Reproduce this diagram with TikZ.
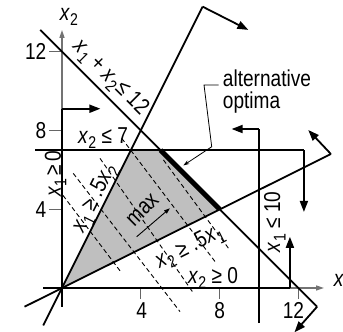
\documentclass[tikz,border=0pt]{standalone}
\usepackage{fontspec}
\setmainfont{Liberation Sans}
\usetikzlibrary{arrows.meta}
\newcommand{\vx}[1]{\textit{x}\kern0.3pt\raisebox{-0.45ex}{\fontsize{17}{17}\selectfont #1}}
\newcommand{\nt}[1]{\scalebox{0.83}[1]{\fontsize{23}{26}\selectfont #1}}
\tikzset{
  con/.style={line width=1.8pt, black},
  conarr/.style={line width=1.8pt, black, -{Triangle[length=11pt,width=8pt]}},
  axisline/.style={line width=1.4pt, black!55, -{Triangle[length=8pt,width=5pt]}},
  tick/.style={line width=1.1pt, black!60},
  dsh/.style={line width=0.9pt, dash pattern=on 4.5pt off 3pt},
  lbl/.style={inner sep=0pt, outer sep=0pt},
  region/.style={fill=black!25},
}
\begin{document}
\begin{tikzpicture}[x=19.7pt,y=19.7pt]
\useasboundingbox (-3.147,-2.234) rectangle (14.264,14.619);

% feasible region
\coordinate (O) at (0,0);
\coordinate (A) at (3.5,7);
\coordinate (B) at (5,7);
\coordinate (C) at (8,4);
\fill[region] (O) -- (A) -- (B) -- (C) -- cycle;

% objective contours
\coordinate (d0a) at (0.05,4.7);  \coordinate (d0b) at (3.0,0.8);
\coordinate (d1a) at (0.57,5.82); \coordinate (d1b) at (5.99,-1.2);
\coordinate (d2a) at (1.93,6.58); \coordinate (d2b) at (6.7,-0.3);
\coordinate (d3a) at (3.03,7.6);  \coordinate (d3b) at (7.8,1.3);
\coordinate (d4a) at (5.15,6.5);  \coordinate (d4b) at (8.5,1.95);
\foreach \i in {0,...,4} \draw[dsh] (d\i a) -- (d\i b);

% axes
\coordinate (x1s) at (-0.96,0);  \coordinate (x1e) at (13.3,0);
\coordinate (x2s) at (0,-0.96);  \coordinate (x2e) at (0,13.1);
\draw[axisline] (x1s) -- (x1e);
\draw[axisline] (x2s) -- (x2e);
\node[lbl] (x2lab) at (0.35,13.75) {\nt{\vx{2}}};
\node[lbl, anchor=west] (x1lab) at (13.8,0.25) {\nt{\vx{1}}};

% ticks
\foreach \v in {4,8,12} {
  \draw[tick] (-0.65,\v) -- (0,\v);
  \draw[tick] (\v,0) -- (\v,-0.55);
}
\node[lbl, anchor=east] (ty12) at (-0.8,12) {\nt{12}};
\node[lbl, anchor=east] (ty8) at (-0.8,8) {\nt{8}};
\node[lbl, anchor=east] (ty4) at (-0.8,4) {\nt{4}};
\node[lbl, anchor=north] (tx4) at (4.05,-0.75) {\nt{4}};
\node[lbl, anchor=north] (tx8) at (8.0,-0.75) {\nt{8}};
\node[lbl, anchor=north] (tx12) at (11.75,-0.75) {\nt{12}};

% x1 >= 0
\coordinate (c1a) at (0,-0.96); \coordinate (c1b) at (0,9.1); \coordinate (c1c) at (1.95,9.1);
\draw[con] (c1a) -- (c1b);
\draw[conarr] (c1b) -- (c1c);
% x2 >= 0
\coordinate (c2a) at (-0.96,0); \coordinate (c2b) at (11.57,0); \coordinate (c2c) at (11.57,2.6);
\draw[con] (c2a) -- (c2b);
\draw[conarr] (c2b) -- (c2c);
% x2 <= 7
\coordinate (c3a) at (-1.37,7); \coordinate (c3b) at (12.28,7); \coordinate (c3c) at (12.28,3.86);
\draw[con] (c3a) -- (c3b);
\draw[conarr] (c3b) -- (c3c);
% x1 <= 10
\coordinate (c4a) at (10,-1.78); \coordinate (c4b) at (10,8.07); \coordinate (c4c) at (8.61,8.07);
\draw[con] (c4a) -- (c4b);
\draw[conarr] (c4b) -- (c4c);
% x1 + x2 <= 12
\coordinate (c5a) at (-1.1,13.1); \coordinate (c5b) at (12.95,-0.95); \coordinate (c5c) at (11.8,-2.25);
\draw[con] (c5a) -- (c5b);
\draw[conarr] (c5b) -- (c5c);
% x1 >= .5 x2
\coordinate (c6a) at (-0.95,-1.9); \coordinate (c6b) at (7.14,14.28); \coordinate (c6c) at (9.46,13.1);
\draw[con] (c6a) -- (c6b);
\draw[conarr] (c6b) -- (c6c);
% x2 >= .5 x1
\coordinate (c7a) at (-1.9,-0.95); \coordinate (c7b) at (13.65,6.8); \coordinate (c7c) at (12.5,8.02);
\draw[con] (c7a) -- (c7b);
\draw[conarr] (c7b) -- (c7c);

% alternative optima
\draw[line width=5pt] (B) -- (C);

% objective direction
\coordinate (m1) at (3.79,2.6); \coordinate (m2) at (5.48,4.05);
\draw[line width=0.9pt, -{Triangle[length=6pt,width=4pt]}] (m1) -- (m2);
\node[lbl, rotate=45] (maxlab) at (4.1,3.96) {\nt{max}};

% constraint labels
\node[lbl, rotate=-45] (l5) at (2.45,10.65) {\nt{\vx{1} + \vx{2}\kern1pt≤ 12}};
\node[lbl] (l3) at (2.08,7.6) {\nt{\vx{2} ≤ 7}};
\node[lbl, rotate=90] (l1) at (-0.32,5.8) {\nt{\vx{1}\,≥\,0}};
\node[lbl, rotate=63.43] (l6) at (1.68,4.55) {\nt{\vx{1} ≥ .5\vx{2}}};
\node[lbl, rotate=26.57] (l7) at (6.5,2.05) {\nt{\vx{2} ≥ .5\vx{1}}};
\node[lbl] (l2) at (7.67,0.5) {\nt{\vx{2} ≥ 0}};
\node[lbl, rotate=90] (l4) at (10.8,3.35) {\nt{\vx{1} ≤ 10}};

% annotation
\node[lbl, anchor=base west] (alt1) at (8.17,10.25) {\nt{alternative}};
\node[lbl, anchor=base west] (alt2) at (8.17,9.1) {\nt{optima}};
\coordinate (p1) at (7.95,10.3); \coordinate (p2) at (7.21,10.3);
\coordinate (p3) at (7.6,7.17); \coordinate (p4) at (6.16,6.22);
\draw[line width=0.8pt, -{Stealth[length=6pt,width=4pt]}] (p1) -- (p2) -- (p3) -- (p4);
\end{tikzpicture}
\end{document}
